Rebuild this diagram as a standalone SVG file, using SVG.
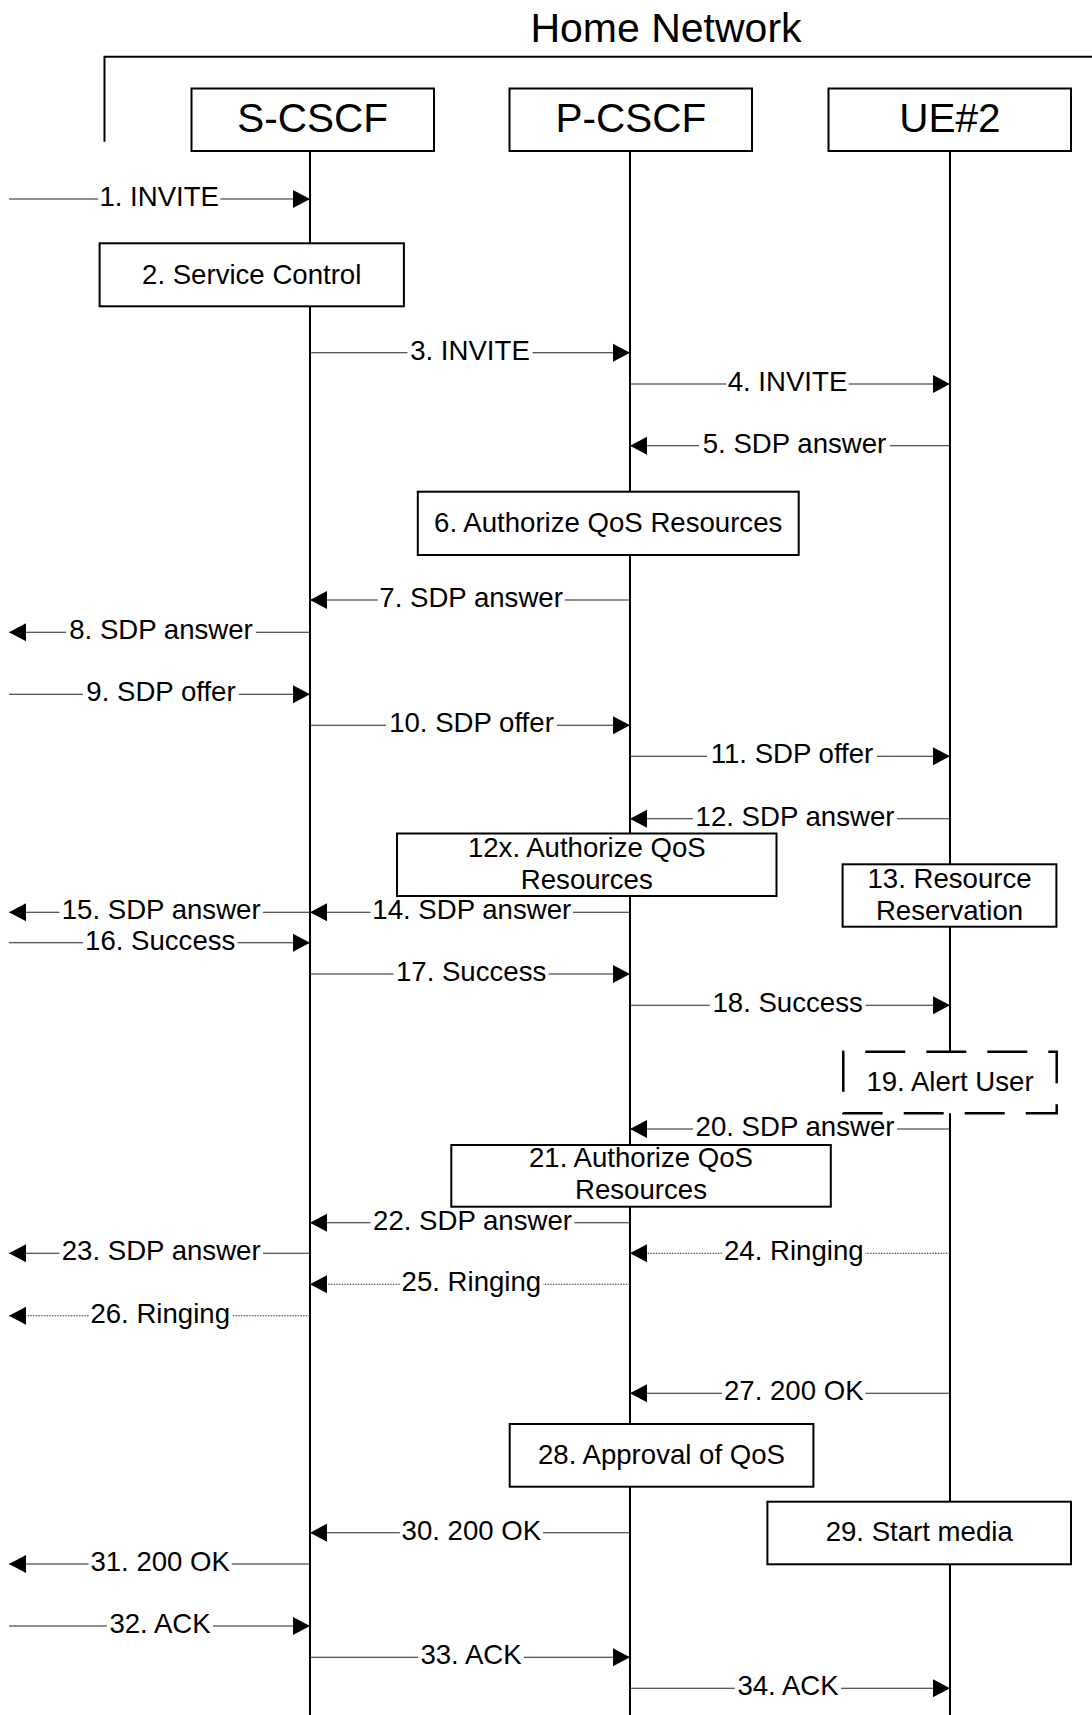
<svg xmlns="http://www.w3.org/2000/svg" width="1092" height="1715" viewBox="0 0 1092 1715">
<style>
text{font-family:"Liberation Sans",Arial,sans-serif;fill:#000}
.t{font-size:27.6px;text-anchor:middle}
.h{font-size:40.5px;text-anchor:middle}
.box{fill:#fff;stroke:#000;stroke-width:2}
.life{stroke:#000;stroke-width:2}
.m{stroke:#222;stroke-width:1.1;fill:none}
.d{stroke:#333;stroke-width:1.1;stroke-dasharray:1.5 1.2;fill:none}
.a{marker-end:url(#ah)}
</style>
<defs>
<marker id="ah" markerUnits="userSpaceOnUse" markerWidth="18" markerHeight="19" refX="17" refY="9" orient="auto" overflow="visible">
<path d="M0,0 L17,9 L0,18 Z" fill="#000" stroke="none"/>
</marker>
</defs>
<rect width="1092" height="1715" fill="#fff"/>
<g id="frame">
<text x="666" y="42" style="font-size:41px;text-anchor:middle">Home Network</text>
<path d="M104.5,141.7 V56.7 H1092" fill="none" stroke="#000" stroke-width="2"/>
</g>
<g id="lifelines">
<line class="life" x1="310" y1="151" x2="310" y2="1715"/>
<line class="life" x1="630" y1="151" x2="630" y2="1715"/>
<line class="life" x1="950" y1="151" x2="950" y2="1715"/>
</g>
<g id="S-CSCF"><rect class="box" x="191.5" y="88.5" width="242.5" height="62.5"/><text class="h" x="312.7" y="132">S-CSCF</text></g>
<g id="P-CSCF"><rect class="box" x="509.5" y="88.5" width="242.5" height="62.5"/><text class="h" x="630.8" y="132">P-CSCF</text></g>
<g id="UE2"><rect class="box" x="828.5" y="88.5" width="242.5" height="62.5"/><text class="h" x="949.8" y="132">UE#2</text></g>
<g id="step2"><rect class="box" x="99.6" y="243.3" width="304.3" height="63"/><text class="t" x="251.7" y="283.5">2. Service Control</text></g>
<g id="step6"><rect class="box" x="417.8" y="491.7" width="380.9" height="63.3"/><text class="t" x="608.2" y="531.5">6. Authorize QoS Resources</text></g>
<g id="step12x"><rect class="box" x="397" y="833.5" width="379.5" height="62.5"/><text class="t" x="586.8" y="856.7">12x. Authorize QoS</text><text class="t" x="586.8" y="889">Resources</text></g>
<g id="step13"><rect class="box" x="842.6" y="864.3" width="213.8" height="62.4"/><text class="t" x="949.5" y="888.3">13. Resource</text><text class="t" x="949.5" y="920">Reservation</text></g>
<g id="step19"><path d="M843.3,1051.7 V1113.3 H1056.7 V1051.7 Z" fill="#fff" stroke="#000" stroke-width="2.5" stroke-dasharray="40 21"/><text class="t" x="950" y="1090.5">19. Alert User</text></g>
<g id="step21"><rect class="box" x="451.3" y="1145" width="379.5" height="61.7"/><text class="t" x="641" y="1166.7">21. Authorize QoS</text><text class="t" x="641" y="1198.8">Resources</text></g>
<g id="step28"><rect class="box" x="509.7" y="1424" width="303.7" height="62.7"/><text class="t" x="661.5" y="1463.5">28. Approval of QoS</text></g>
<g id="step29"><rect class="box" x="767.4" y="1501.7" width="303.6" height="62.6"/><text class="t" x="919.2" y="1541">29. Start media</text></g>
<g id="connectors">
<line class="m" x1="9" y1="199" x2="98" y2="199"/><line class="m a" x1="220.3" y1="199" x2="310" y2="199"/>
<line class="m" x1="310" y1="352.7" x2="407.5" y2="352.7"/><line class="m a" x1="532.6" y1="352.7" x2="630" y2="352.7"/>
<line class="m" x1="630" y1="384" x2="726.3" y2="384"/><line class="m a" x1="848.7" y1="384" x2="950" y2="384"/>
<line class="m" x1="950" y1="445.7" x2="890" y2="445.7"/><line class="m a" x1="699" y1="445.7" x2="630" y2="445.7"/>
<line class="m" x1="630" y1="600" x2="564.7" y2="600"/><line class="m a" x1="377.5" y1="600" x2="310" y2="600"/>
<line class="m" x1="310" y1="632.3" x2="256" y2="632.3"/><line class="m a" x1="66" y1="632.3" x2="9" y2="632.3"/>
<line class="m" x1="9" y1="694.3" x2="83" y2="694.3"/><line class="m a" x1="238.8" y1="694.3" x2="310" y2="694.3"/>
<line class="m" x1="310" y1="725.3" x2="386" y2="725.3"/><line class="m a" x1="557" y1="725.3" x2="630" y2="725.3"/>
<line class="m" x1="630" y1="756.3" x2="707" y2="756.3"/><line class="m a" x1="877" y1="756.3" x2="950" y2="756.3"/>
<line class="m" x1="950" y1="818.7" x2="897" y2="818.7"/><line class="m a" x1="693" y1="818.7" x2="630" y2="818.7"/>
<line class="m" x1="630" y1="912.3" x2="573" y2="912.3"/><line class="m a" x1="370.6" y1="912.3" x2="310" y2="912.3"/>
<line class="m" x1="310" y1="912.3" x2="263" y2="912.3"/><line class="m a" x1="59.3" y1="912.3" x2="9" y2="912.3"/>
<line class="m" x1="9" y1="942.7" x2="83" y2="942.7"/><line class="m a" x1="237.4" y1="942.7" x2="310" y2="942.7"/>
<line class="m" x1="310" y1="974" x2="393.5" y2="974"/><line class="m a" x1="548.7" y1="974" x2="630" y2="974"/>
<line class="m" x1="630" y1="1005.3" x2="709.7" y2="1005.3"/><line class="m a" x1="865.5" y1="1005.3" x2="950" y2="1005.3"/>
<line class="m" x1="950" y1="1129" x2="897" y2="1129"/><line class="m a" x1="693" y1="1129" x2="630" y2="1129"/>
<line class="m" x1="630" y1="1222.7" x2="574.4" y2="1222.7"/><line class="m a" x1="370.6" y1="1222.7" x2="310" y2="1222.7"/>
<line class="m" x1="310" y1="1253.3" x2="263" y2="1253.3"/><line class="m a" x1="59.3" y1="1253.3" x2="9" y2="1253.3"/>
<line class="d" x1="950" y1="1253.3" x2="865.5" y2="1253.3"/><line class="d a" x1="722" y1="1253.3" x2="630" y2="1253.3"/>
<line class="d" x1="630" y1="1284.3" x2="543" y2="1284.3"/><line class="d a" x1="399.8" y1="1284.3" x2="310" y2="1284.3"/>
<line class="d" x1="310" y1="1315.7" x2="231.8" y2="1315.7"/><line class="d a" x1="88.5" y1="1315.7" x2="9" y2="1315.7"/>
<line class="m" x1="950" y1="1393.3" x2="865.5" y2="1393.3"/><line class="m a" x1="722" y1="1393.3" x2="630" y2="1393.3"/>
<line class="m" x1="630" y1="1532.7" x2="543" y2="1532.7"/><line class="m a" x1="399.8" y1="1532.7" x2="310" y2="1532.7"/>
<line class="m" x1="310" y1="1564" x2="231.8" y2="1564"/><line class="m a" x1="88.5" y1="1564" x2="9" y2="1564"/>
<line class="m" x1="9" y1="1626" x2="107" y2="1626"/><line class="m a" x1="213" y1="1626" x2="310" y2="1626"/>
<line class="m" x1="310" y1="1657.3" x2="418" y2="1657.3"/><line class="m a" x1="524" y1="1657.3" x2="630" y2="1657.3"/>
<line class="m" x1="630" y1="1688.3" x2="734.8" y2="1688.3"/><line class="m a" x1="841" y1="1688.3" x2="950" y2="1688.3"/>
</g>
<g id="labels">
<text class="t" x="159.2" y="206">1. INVITE</text>
<text class="t" x="470" y="359.7">3. INVITE</text>
<text class="t" x="787.5" y="391">4. INVITE</text>
<text class="t" x="794.5" y="452.7">5. SDP answer</text>
<text class="t" x="471.1" y="607">7. SDP answer</text>
<text class="t" x="161" y="639.3">8. SDP answer</text>
<text class="t" x="161" y="701.3">9. SDP offer</text>
<text class="t" x="471.5" y="732.3">10. SDP offer</text>
<text class="t" x="792" y="763.3">11. SDP offer</text>
<text class="t" x="795" y="825.7">12. SDP answer</text>
<text class="t" x="471.8" y="919.3">14. SDP answer</text>
<text class="t" x="161.2" y="919.3">15. SDP answer</text>
<text class="t" x="160.2" y="949.7">16. Success</text>
<text class="t" x="471.1" y="981">17. Success</text>
<text class="t" x="787.6" y="1012.3">18. Success</text>
<text class="t" x="795" y="1136">20. SDP answer</text>
<text class="t" x="472.5" y="1229.7">22. SDP answer</text>
<text class="t" x="161.2" y="1260.3">23. SDP answer</text>
<text class="t" x="793.8" y="1260.3">24. Ringing</text>
<text class="t" x="471.4" y="1291.3">25. Ringing</text>
<text class="t" x="160.2" y="1322.7">26. Ringing</text>
<text class="t" x="793.8" y="1400.3">27. 200 OK</text>
<text class="t" x="471.4" y="1539.7">30. 200 OK</text>
<text class="t" x="160.2" y="1571">31. 200 OK</text>
<text class="t" x="160" y="1633">32. ACK</text>
<text class="t" x="471" y="1664.3">33. ACK</text>
<text class="t" x="788" y="1695.3">34. ACK</text>
</g>
</svg>
